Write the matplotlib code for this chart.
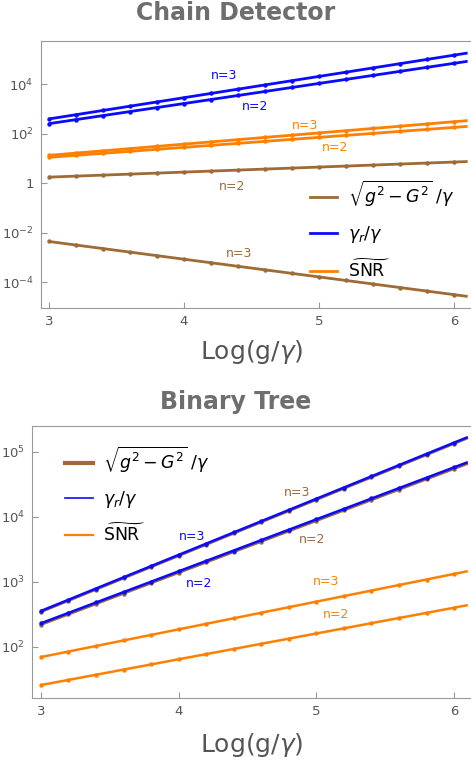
import matplotlib

matplotlib.use("Agg")
import matplotlib.pyplot as plt
import numpy as np
from matplotlib.lines import Line2D

# x = Log(g/gamma), same grid in both panels
log_g = [3.0, 3.2, 3.4, 3.6, 3.8, 4.0, 4.2, 4.4, 4.6, 4.8, 5.0, 5.2, 5.4, 5.6, 5.8, 6.0]

# Chain Detector
chain_rate_n3 = [389, 578, 859, 1280, 1900, 2820, 4190, 6220, 9250, 13700, 20400, 30300, 45100, 67000, 99500, 148000]
chain_rate_n2 = [251, 366, 531, 773, 1130, 1630, 2380, 3460, 5040, 7310, 10600, 15500, 22500, 32700, 47600, 69200]
chain_snr_n3 = [13.2, 16.3, 20.0, 24.7, 30.4, 37.4, 46.1, 56.9, 70.0, 86.3, 106, 131, 161, 199, 245, 302]
chain_snr_n2 = [11.0, 13.2, 15.9, 19.1, 23.1, 27.7, 33.4, 40.3, 48.4, 58.3, 70.3, 84.5, 102, 123, 148, 178]
chain_gap_n2 = [1.74, 1.91, 2.09, 2.30, 2.53, 2.77, 3.05, 3.35, 3.67, 4.04, 4.43, 4.86, 5.35, 5.87, 6.44, 7.08]
chain_gap_n3 = [4.37e-3, 3.14e-3, 2.25e-3, 1.62e-3, 1.17e-3, 8.38e-4, 6.03e-4, 4.34e-4,
                3.11e-4, 2.24e-4, 1.61e-4, 1.16e-4, 8.32e-5, 5.98e-5, 4.30e-5, 3.09e-5]

# Binary Tree
tree_rate_n3 = [355, 528, 786, 1170, 1740, 2590, 3850, 5740, 8540, 12700, 18900, 28100, 41900, 62400, 92700, 138000]
tree_rate_n2 = [229, 331, 479, 692, 1000, 1450, 2090, 3020, 4370, 6310, 9120, 13200, 19100, 27500, 39800, 57500]
tree_gap_n3 = [343, 510, 758, 1130, 1680, 2500, 3720, 5540, 8240, 12300, 18200, 27100, 40400, 60200, 89500, 133000]
tree_gap_n2 = [218, 314, 455, 657, 950, 1380, 1990, 2870, 4150, 5990, 8660, 12500, 18100, 26100, 37800, 54600]
tree_snr_n3 = [69.2, 84.2, 102.5, 125, 152, 185, 225, 274, 333, 406, 494, 601, 731, 889, 1080, 1320]
tree_snr_n2 = [25.7, 30.8, 37.0, 44.5, 53.3, 64.1, 76.9, 92.3, 111, 133, 160, 192, 230, 276, 332, 398]

LABEL_GAP = r"$\sqrt{g^2-G^2}\;/\gamma$"
LABEL_RATE = r"$\gamma_r/\gamma$"
LABEL_SNR = r"$\widetilde{\mathrm{SNR}}$"

BROWN = "#9E6A36"
BLUE = "#0A0AFF"
ORANGE = "#FF8000"
GRAY = "#555555"
SPINE = "#999999"


def draw_series(ax, values, color, lw, x_end):
    x = np.array(log_g)
    y = np.log10(values)
    slope, icpt = np.polyfit(x, y, 1)
    xs = np.array([x[0], x_end])
    ax.plot(xs, 10 ** (slope * xs + icpt), color=color, lw=lw, solid_capstyle="butt")
    ax.plot(x, values, "o", color=color, ms=3.2, mew=0)


def style_axes(ax, yticks, ylabels):
    ax.set_yscale("log")
    ax.set_yticks(yticks)
    ax.set_yticklabels(ylabels)
    ax.yaxis.set_minor_locator(matplotlib.ticker.NullLocator())
    ax.set_xticks([3, 4, 5, 6])
    ax.tick_params(direction="in", length=4, color=SPINE, labelcolor=GRAY, labelsize=9.5, pad=5)
    for side in ("left", "bottom", "top"):
        ax.spines[side].set_color(SPINE)
    ax.spines["right"].set_visible(False)


fig = plt.figure(figsize=(4.71, 7.67), dpi=100)

# ---- top panel
ax = fig.add_axes([0.0864, 0.5984, 0.9136, 0.3481])
for vals, col in [(chain_gap_n3, BROWN), (chain_gap_n2, BROWN), (chain_snr_n2, ORANGE),
                  (chain_snr_n3, ORANGE), (chain_rate_n2, BLUE), (chain_rate_n3, BLUE)]:
    draw_series(ax, vals, col, 2.0, 6.1)
ax.set_xlim(2.94, 6.125)
ax.set_ylim(10 ** -5.05, 10 ** 5.74)
style_axes(ax, [1e-4, 1e-2, 1, 1e2, 1e4],
           [r"$10^{-4}$", r"$10^{-2}$", "1", r"$10^{2}$", r"$10^{4}$"])
for xt, yt, txt, col in [(4.30, 4.36, "n=3", BLUE), (4.53, 3.08, "n=2", BLUE),
                         (4.90, 2.32, "n=3", ORANGE), (5.12, 1.43, "n=2", ORANGE),
                         (4.36, -0.15, "n=2", BROWN), (4.41, -2.83, "n=3", BROWN)]:
    ax.text(xt, 10 ** yt, txt, color=col, fontsize=9, ha="center", va="center")
handles = [Line2D([], [], color=BROWN, lw=2), Line2D([], [], color=BLUE, lw=2),
           Line2D([], [], color=ORANGE, lw=2)]
ax.legend(handles, [LABEL_GAP, LABEL_RATE, LABEL_SNR], loc="upper left",
          bbox_to_anchor=(0.625, 0.485), frameon=False, fontsize=12.5, handlelength=1.6,
          handletextpad=0.6, labelspacing=0.85, borderpad=0, borderaxespad=0)

# ---- bottom panel
ax = fig.add_axes([0.0679, 0.0899, 0.9321, 0.355])
for vals, col in [(tree_snr_n2, ORANGE), (tree_snr_n3, ORANGE), (tree_gap_n2, BROWN),
                  (tree_gap_n3, BROWN), (tree_rate_n2, BLUE), (tree_rate_n3, BLUE)]:
    draw_series(ax, vals, col, 1.8, 6.1)
ax.set_xlim(2.935, 6.123)
ax.set_ylim(10 ** 1.21, 10 ** 5.4)
style_axes(ax, [1e2, 1e3, 1e4, 1e5], [r"$10^{2}$", r"$10^{3}$", r"$10^{4}$", r"$10^{5}$"])
for xt, yt, txt, col in [(4.10, 3.69, "n=3", BLUE), (4.15, 2.97, "n=2", BLUE),
                         (4.86, 4.37, "n=3", BROWN), (4.97, 3.65, "n=2", BROWN),
                         (5.07, 3.00, "n=3", ORANGE), (5.14, 2.50, "n=2", ORANGE)]:
    ax.text(xt, 10 ** yt, txt, color=col, fontsize=9, ha="center", va="center")
handles = [Line2D([], [], color=BROWN, lw=3), Line2D([], [], color=BLUE, lw=1.2),
           Line2D([], [], color=ORANGE, lw=1.6)]
ax.legend(handles, [LABEL_GAP, LABEL_RATE, LABEL_SNR], loc="upper left",
          bbox_to_anchor=(0.075, 0.93), frameon=False, fontsize=12.5, handlelength=1.6,
          handletextpad=0.6, labelspacing=0.8, borderpad=0, borderaxespad=0)

fig.text(0.5, 0.983, "Chain Detector", ha="center", va="center", fontsize=17,
         fontweight="bold", color="#6E6E6E")
fig.text(0.5, 0.476, "Binary Tree", ha="center", va="center", fontsize=17,
         fontweight="bold", color="#6E6E6E")
fig.text(0.535, 0.541, r"Log(g/$\gamma$)", ha="center", va="center", fontsize=18, color=GRAY)
fig.text(0.535, 0.029, r"Log(g/$\gamma$)", ha="center", va="center", fontsize=18, color=GRAY)

fig.savefig("out.png", dpi=100)
